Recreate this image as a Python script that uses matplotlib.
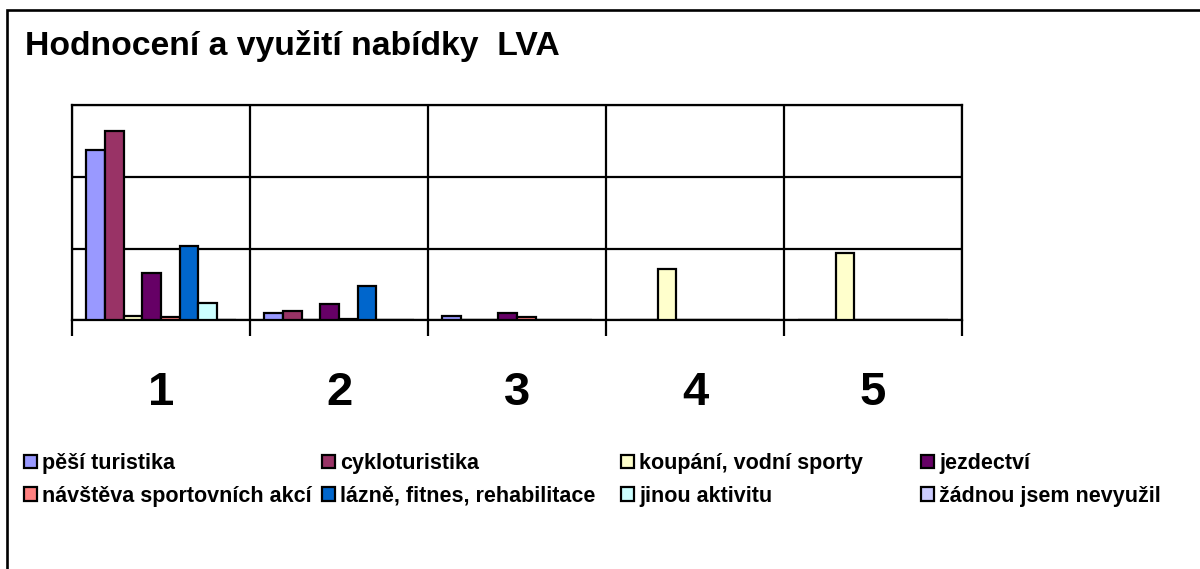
import matplotlib
matplotlib.use("Agg")
import matplotlib.pyplot as plt
from matplotlib.patches import Rectangle
import numpy as np

plt.rcParams['font.family'] = ['Liberation Sans', 'DejaVu Sans']

title = "Hodnocení a využití nabídky  LVA"
categories = ["1", "2", "3", "4", "5"]
series_names = ["pěší turistika", "cykloturistika", "koupání, vodní sporty", "jezdectví",
                "návštěva sportovních akcí", "lázně, fitnes, rehabilitace", "jinou aktivitu",
                "žádnou jsem nevyužil"]
series_colors = ["#9999FF", "#993366", "#FFFFCC", "#660066",
                 "#FF8080", "#0066CC", "#CCFFFF", "#CCCCFF"]

pesi = [119, 5, 3, 0, 0]
cyklo = [132, 6, 0, 0, 0]
koupani = [3, 0, 0, 36, 47]
jezdectvi = [33, 11, 5, 0, 0]
navsteva = [2, 1, 2, 0, 0]
lazne = [52, 24, 0, 0, 0]
jinou = [12, 0, 0, 0, 0]
zadnou = [0, 0, 0, 0, 0]
series_values = [pesi, cyklo, koupani, jezdectvi, navsteva, lazne, jinou, zadnou]

W, H = 1200, 569
fig = plt.figure(figsize=(W / 100, H / 100), dpi=100)
fig.patch.set_facecolor("white")

# outer chart border
fig.patches.append(Rectangle((7 / W, -0.2), 1.3, 1.2 - 10 / H,
                             transform=fig.transFigure, fill=False,
                             edgecolor="black", linewidth=1.9))

ax = fig.add_axes([72 / W, 1 - 320 / H, (962 - 72) / W, (320 - 105.5) / H])

lw = 1.6
x = np.arange(1, len(categories) + 1)
bw = 0.1048
n = len(series_values)
containers = []
for i, (vals, name, col) in enumerate(zip(series_values, series_names, series_colors)):
    c = ax.bar(x + (i - (n - 1) / 2) * bw, vals, width=bw, color=col,
               edgecolor="black", linewidth=lw, label=name, zorder=3)
    containers.append(c)

ax.set_xlim(0.5, len(categories) + 0.5)
ax.set_ylim(0, 150)
ax.set_yticks([0, 50, 100, 150])
ax.set_yticklabels([])
ax.tick_params(axis="y", length=0)
ax.yaxis.grid(True, color="black", linewidth=lw, zorder=1)

ax.set_xticks(x)
ax.set_xticklabels(categories, fontsize=34, fontweight="bold")
ax.tick_params(axis="x", which="major", length=0, pad=37)
ax.set_xticks(np.arange(0.5, len(categories) + 1, 1.0), minor=True)
ax.tick_params(axis="x", which="minor", length=11.5, width=lw, direction="out", color="black")
ax.xaxis.grid(True, which="minor", color="black", linewidth=lw, zorder=1)
ax.set_axisbelow(True)
for s in ax.spines.values():
    s.set_linewidth(lw)
    s.set_color("black")

fig.text(25 / W, 1 - 46 / H, title, fontsize=24.3, fontweight="bold", ha="left", va="center")

# legend: four columns, two rows
col_x = [24, 322, 621, 921]
yc = 1 - 480 / H
for k in range(4):
    idx = [k, k + 4]
    fig.legend([containers[j] for j in idx], [series_names[j] for j in idx],
               loc="center left", bbox_to_anchor=(col_x[k] / W, yc),
               frameon=False, ncol=1, borderpad=0, borderaxespad=0,
               handlelength=0.6, handleheight=0.6, handletextpad=0.25,
               labelspacing=0.55, prop={"size": 15.5, "weight": "bold"})

fig.savefig("out.png", dpi=100, facecolor="white")
